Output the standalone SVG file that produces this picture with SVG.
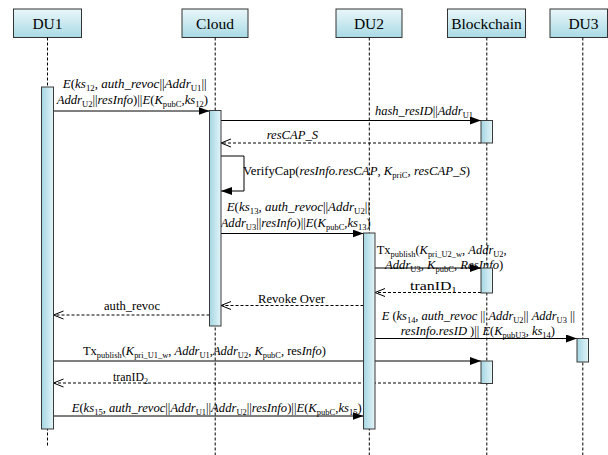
<svg xmlns="http://www.w3.org/2000/svg" width="608" height="455" viewBox="0 0 608 455" font-family="Liberation Serif, serif">
<defs>
<linearGradient id="gBox" x1="0" y1="0" x2="0" y2="1"><stop offset="0" stop-color="#eaf7fa"/><stop offset="1" stop-color="#a9dae5"/></linearGradient>
<linearGradient id="gBar" x1="0" y1="0" x2="1" y2="0"><stop offset="0" stop-color="#a4d6e2"/><stop offset="1" stop-color="#e4f4f8"/></linearGradient>
<marker id="aF" markerUnits="userSpaceOnUse" viewBox="0 0 11 8" refX="11" refY="4" markerWidth="11" markerHeight="8" orient="auto"><path d="M0,0 L11,4 L0,8 z" fill="#000"/></marker>
<marker id="aO" markerUnits="userSpaceOnUse" viewBox="-1 -1 12 10" refX="10" refY="4" markerWidth="12" markerHeight="10" orient="auto"><path d="M0,0 L10,4 L0,8" fill="none" stroke="#000" stroke-width="1"/></marker>
</defs>
<style>
.box{fill:url(#gBox);stroke:#333;stroke-width:1}
.bar{fill:url(#gBar);stroke:#3a3a3a;stroke-width:1}
.life{stroke:#000;stroke-width:1;stroke-dasharray:3 2;fill:none}
.msg{stroke:#000;stroke-width:1;fill:none;marker-end:url(#aF)}
.ret{stroke:#000;stroke-width:1;stroke-dasharray:3 2;fill:none;marker-end:url(#aO)}
text{font-family:Liberation Serif, serif;font-size:12.6px;fill:#000}
.h{font-size:15.5px;text-anchor:middle}
.i{font-style:italic}
.s{font-size:8.5px;font-style:normal}
</style>
<g id="connectors">
<path class="msg" d="M53.5,111 H209.5"/>
<text x="62.7" y="88" textLength="144" lengthAdjust="spacingAndGlyphs"><tspan class="i">E</tspan>(<tspan class="i">ks</tspan><tspan class="s" dy="3">12</tspan><tspan dy="-3">, </tspan><tspan class="i">auth_revoc</tspan>||<tspan class="i">Addr</tspan><tspan class="s" dy="3">U1</tspan><tspan dy="-3">||</tspan></text>
<text x="56.7" y="104" textLength="151.3" lengthAdjust="spacingAndGlyphs"><tspan class="i">Addr</tspan><tspan class="s" dy="3">U2</tspan><tspan dy="-3">||</tspan><tspan class="i">resInfo</tspan>)||<tspan class="i">E</tspan>(<tspan class="i">K</tspan><tspan class="s" dy="3">pubC</tspan><tspan dy="-3">,</tspan><tspan class="i">ks</tspan><tspan class="s" dy="3">12</tspan><tspan dy="-3">)</tspan></text>

<path class="msg" d="M221,120.5 H481"/>
<text x="375" y="114.5" textLength="98" lengthAdjust="spacingAndGlyphs"><tspan class="i">hash_resID</tspan>||<tspan class="i">Addr</tspan><tspan class="s" dy="3">U1</tspan></text>

<path class="ret" d="M481,143 H221"/>
<text x="266.7" y="139" textLength="51.3" lengthAdjust="spacingAndGlyphs" class="i">resCAP_S</text>

<path class="msg" d="M221,156 H244 V191 H221"/>
<text x="243" y="175" textLength="227" lengthAdjust="spacingAndGlyphs">VerifyCap(<tspan class="i">resInfo.resCAP</tspan>, <tspan class="i">K</tspan><tspan class="s" dy="3">priC</tspan><tspan dy="-3">, </tspan><tspan class="i">resCAP_S</tspan>)</text>

<path class="msg" d="M221,233.5 H363.5"/>
<text x="226.7" y="211" textLength="143.3" lengthAdjust="spacingAndGlyphs"><tspan class="i">E</tspan>(<tspan class="i">ks</tspan><tspan class="s" dy="3">13</tspan><tspan dy="-3">, </tspan><tspan class="i">auth_revoc</tspan>||<tspan class="i">Addr</tspan><tspan class="s" dy="3">U2</tspan><tspan dy="-3">||</tspan></text>
<text x="220.7" y="227" textLength="150" lengthAdjust="spacingAndGlyphs"><tspan class="i">Addr</tspan><tspan class="s" dy="3">U3</tspan><tspan dy="-3">||</tspan><tspan class="i">resInfo</tspan>)||<tspan class="i">E</tspan>(<tspan class="i">K</tspan><tspan class="s" dy="3">pubC</tspan><tspan dy="-3">,</tspan><tspan class="i">ks</tspan><tspan class="s" dy="3">13</tspan><tspan dy="-3">)</tspan></text>

<path class="msg" d="M375,268 H481"/>
<text x="376.7" y="254" textLength="130" lengthAdjust="spacingAndGlyphs">Tx<tspan class="s" dy="3">publish</tspan><tspan dy="-3">(</tspan><tspan class="i">K</tspan><tspan class="s" dy="3">pri_U2_w</tspan><tspan dy="-3">, </tspan><tspan class="i">Addr</tspan><tspan class="s" dy="3">U2</tspan><tspan dy="-3">,</tspan></text>
<text x="385" y="269" textLength="118.3" lengthAdjust="spacingAndGlyphs"><tspan class="i">Addr</tspan><tspan class="s" dy="3">U3</tspan><tspan dy="-3">, </tspan><tspan class="i">K</tspan><tspan class="s" dy="3">pubC</tspan><tspan dy="-3">, </tspan><tspan class="i">ResInfo</tspan>)</text>

<path class="ret" d="M481,292.5 H375"/>
<text x="410" y="289.5" textLength="46.7" lengthAdjust="spacingAndGlyphs">tranID<tspan class="s" dy="3">1</tspan></text>

<path class="ret" d="M363.5,305.5 H221"/>
<text x="258" y="303" textLength="67" lengthAdjust="spacingAndGlyphs">Revoke Over</text>

<path class="ret" d="M209.5,315 H53.5"/>
<text x="104" y="310" textLength="56" lengthAdjust="spacingAndGlyphs">auth_revoc</text>

<path class="msg" d="M375,338.5 H577"/>
<text x="381.7" y="319.5" textLength="193.3" lengthAdjust="spacingAndGlyphs"><tspan class="i">E</tspan> (<tspan class="i">ks</tspan><tspan class="s" dy="3">14</tspan><tspan dy="-3">, </tspan><tspan class="i">auth_revoc</tspan> || <tspan class="i">Addr</tspan><tspan class="s" dy="3">U2</tspan><tspan dy="-3">|| </tspan><tspan class="i">Addr</tspan><tspan class="s" dy="3">U3</tspan><tspan dy="-3"> ||</tspan></text>
<text x="400.7" y="335" textLength="154.3" lengthAdjust="spacingAndGlyphs"><tspan class="i">resInfo.resID</tspan> )|| <tspan class="i">E</tspan>(<tspan class="i">K</tspan><tspan class="s" dy="3">pubU3</tspan><tspan dy="-3">, </tspan><tspan class="i">ks</tspan><tspan class="s" dy="3">14</tspan><tspan dy="-3">)</tspan></text>

<path class="msg" d="M53.5,361 H481"/>
<text x="83" y="354.5" textLength="243" lengthAdjust="spacingAndGlyphs">Tx<tspan class="s" dy="3">publish</tspan><tspan dy="-3">(</tspan><tspan class="i">K</tspan><tspan class="s" dy="3">pri_U1_w</tspan><tspan dy="-3">, </tspan><tspan class="i">Addr</tspan><tspan class="s" dy="3">U1</tspan><tspan dy="-3">,</tspan><tspan class="i">Addr</tspan><tspan class="s" dy="3">U2</tspan><tspan dy="-3">, </tspan><tspan class="i">K</tspan><tspan class="s" dy="3">pubC</tspan><tspan dy="-3">, res</tspan><tspan class="i">Info</tspan>)</text>

<path class="ret" d="M481,383 H53.5"/>
<text x="113" y="380.5" textLength="35" lengthAdjust="spacingAndGlyphs">tranID<tspan class="s" dy="3">2</tspan></text>

<path class="msg" d="M53.5,416 H363.5"/>
<text x="71.7" y="412" textLength="290" lengthAdjust="spacingAndGlyphs"><tspan class="i">E</tspan>(<tspan class="i">ks</tspan><tspan class="s" dy="3">15</tspan><tspan dy="-3">, </tspan><tspan class="i">auth_revoc</tspan>||<tspan class="i">Addr</tspan><tspan class="s" dy="3">U1</tspan><tspan dy="-3">||</tspan><tspan class="i">Addr</tspan><tspan class="s" dy="3">U2</tspan><tspan dy="-3">||</tspan><tspan class="i">resInfo</tspan>)||<tspan class="i">E</tspan>(<tspan class="i">K</tspan><tspan class="s" dy="3">pubC</tspan><tspan dy="-3">,</tspan><tspan class="i">ks</tspan><tspan class="s" dy="3">15</tspan><tspan dy="-3">)</tspan></text>
</g>

<g id="DU1">
<rect class="box" x="13.5" y="9" width="68" height="28.5"/>
<text class="h" x="47.5" y="29">DU1</text>
<line class="life" x1="47.5" y1="37.5" x2="47.5" y2="447"/>
<rect class="bar" x="41.5" y="87" width="12" height="342"/>
</g>
<g id="Cloud">
<rect class="box" x="182" y="9" width="66" height="28.5"/>
<text class="h" x="215" y="29">Cloud</text>
<line class="life" x1="215.2" y1="37.5" x2="215.2" y2="455"/>
<rect class="bar" x="209.5" y="110.5" width="11.5" height="215.5"/>
</g>
<g id="DU2">
<rect class="box" x="336" y="9" width="66" height="28.5"/>
<text class="h" x="369" y="29">DU2</text>
<line class="life" x1="369.3" y1="37.5" x2="369.3" y2="455"/>
<rect class="bar" x="363.5" y="233" width="11.5" height="196"/>
</g>
<g id="Blockchain">
<rect class="box" x="447.5" y="9" width="78" height="28.5"/>
<text class="h" x="486.5" y="29">Blockchain</text>
<line class="life" x1="486.8" y1="37.5" x2="486.8" y2="455"/>
<rect class="bar" x="481" y="120.5" width="11.5" height="22.5"/>
<rect class="bar" x="481" y="268" width="11.5" height="25"/>
<rect class="bar" x="481" y="361" width="11.5" height="22.5"/>
</g>
<g id="DU3">
<rect class="box" x="550" y="9" width="57.5" height="28.5"/>
<text class="h" x="583.5" y="29">DU3</text>
<line class="life" x1="582.8" y1="37.5" x2="582.8" y2="455"/>
<rect class="bar" x="577" y="338.5" width="11.5" height="23.5"/>
</g>
</svg>
